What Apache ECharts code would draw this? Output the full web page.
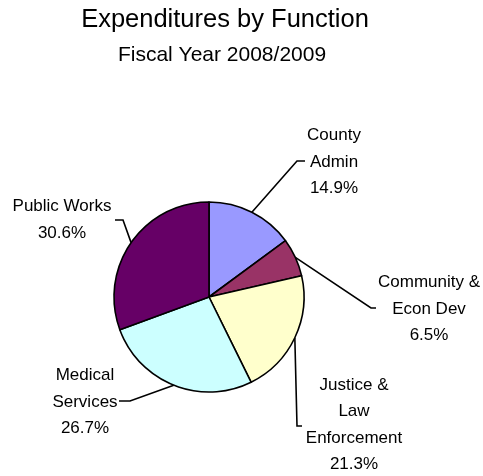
<!DOCTYPE html>
<html>
<head>
<meta charset="utf-8">
<script src="https://cdn.jsdelivr.net/npm/echarts@6/dist/echarts.min.js"></script>
<style>
  html, body { margin: 0; padding: 0; background: #fff; }
  #chart { width: 483px; height: 476px; }
</style>
</head>
<body>
<div id="chart"></div>
<script>
// Expenditure shares by function, FY 2008/2009 (percent of total)
const categories = ['County\nAdmin', 'Community &\nEcon Dev', 'Justice &\nLaw\nEnforcement', 'Medical\nServices', 'Public Works'];
const shares = [14.9, 6.5, 21.3, 26.7, 30.6];
const sliceColors = ['#9999FF', '#993366', '#FFFFCC', '#CCFFFF', '#660066'];

const titleText = 'Expenditures by Function';
const subtitleText = 'Fiscal Year 2008/2009';

// Pie geometry
const CENTER = [209, 297];
const RADIUS = 95;

// Label block centres, plus the elbow and end of each leader line
const labelSpots = [
  { x: 334, y: 162, bend: [297, 161], end: [305, 161] },
  { x: 429, y: 309, bend: [371, 308], end: [376, 308] },
  { x: 354, y: 425, bend: [297, 426], end: [302, 426] },
  { x: 85,  y: 402, bend: [130, 401], end: [119, 401] },
  { x: 62,  y: 220, bend: [123, 220], end: [115, 220] }
];

const FONT = '"Liberation Sans", Arial, sans-serif';

// Point on the rim at the middle of each slice (clockwise from 12 o'clock)
const total = shares.reduce((a, b) => a + b, 0);
function rimPoint(i) {
  let before = 0;
  for (let k = 0; k < i; k++) before += shares[k];
  const a = (before + shares[i] / 2) / total * 2 * Math.PI;
  return [CENTER[0] + RADIUS * Math.sin(a), CENTER[1] - RADIUS * Math.cos(a)];
}

const chart = echarts.init(document.getElementById('chart'), null, { renderer: 'canvas' });

chart.setOption({
  backgroundColor: '#ffffff',
  animation: false,
  graphic: [
    {
      type: 'text', x: 225, y: 20,
      style: { text: titleText, fontFamily: FONT, fontSize: 25.5, fill: '#000', align: 'center', verticalAlign: 'middle' }
    },
    {
      type: 'text', x: 222, y: 55,
      style: { text: subtitleText, fontFamily: FONT, fontSize: 21, fill: '#000', align: 'center', verticalAlign: 'middle' }
    }
  ],
  series: [{
    type: 'pie',
    center: CENTER,
    radius: [0, RADIUS],
    startAngle: 90,
    clockwise: true,
    avoidLabelOverlap: false,
    itemStyle: { borderColor: '#000', borderWidth: 1.6 },
    label: {
      show: true,
      formatter: p => p.name + '\n' + p.value.toFixed(1) + '%',
      fontFamily: FONT,
      fontSize: 17,
      lineHeight: 26.5,
      color: '#000',
      align: 'center'
    },
    labelLine: { show: true, length: 20, length2: 6, lineStyle: { color: '#000', width: 1.6 } },
    labelLayout: function (params) {
      const i = params.dataIndex;
      const s = labelSpots[i];
      return {
        x: s.x, y: s.y, align: 'center', verticalAlign: 'middle',
        labelLinePoints: [rimPoint(i), s.bend, s.end]
      };
    },
    data: categories.map((c, i) => ({
      name: c,
      value: shares[i],
      itemStyle: { color: sliceColors[i] }
    }))
  }]
});
</script>
</body>
</html>
